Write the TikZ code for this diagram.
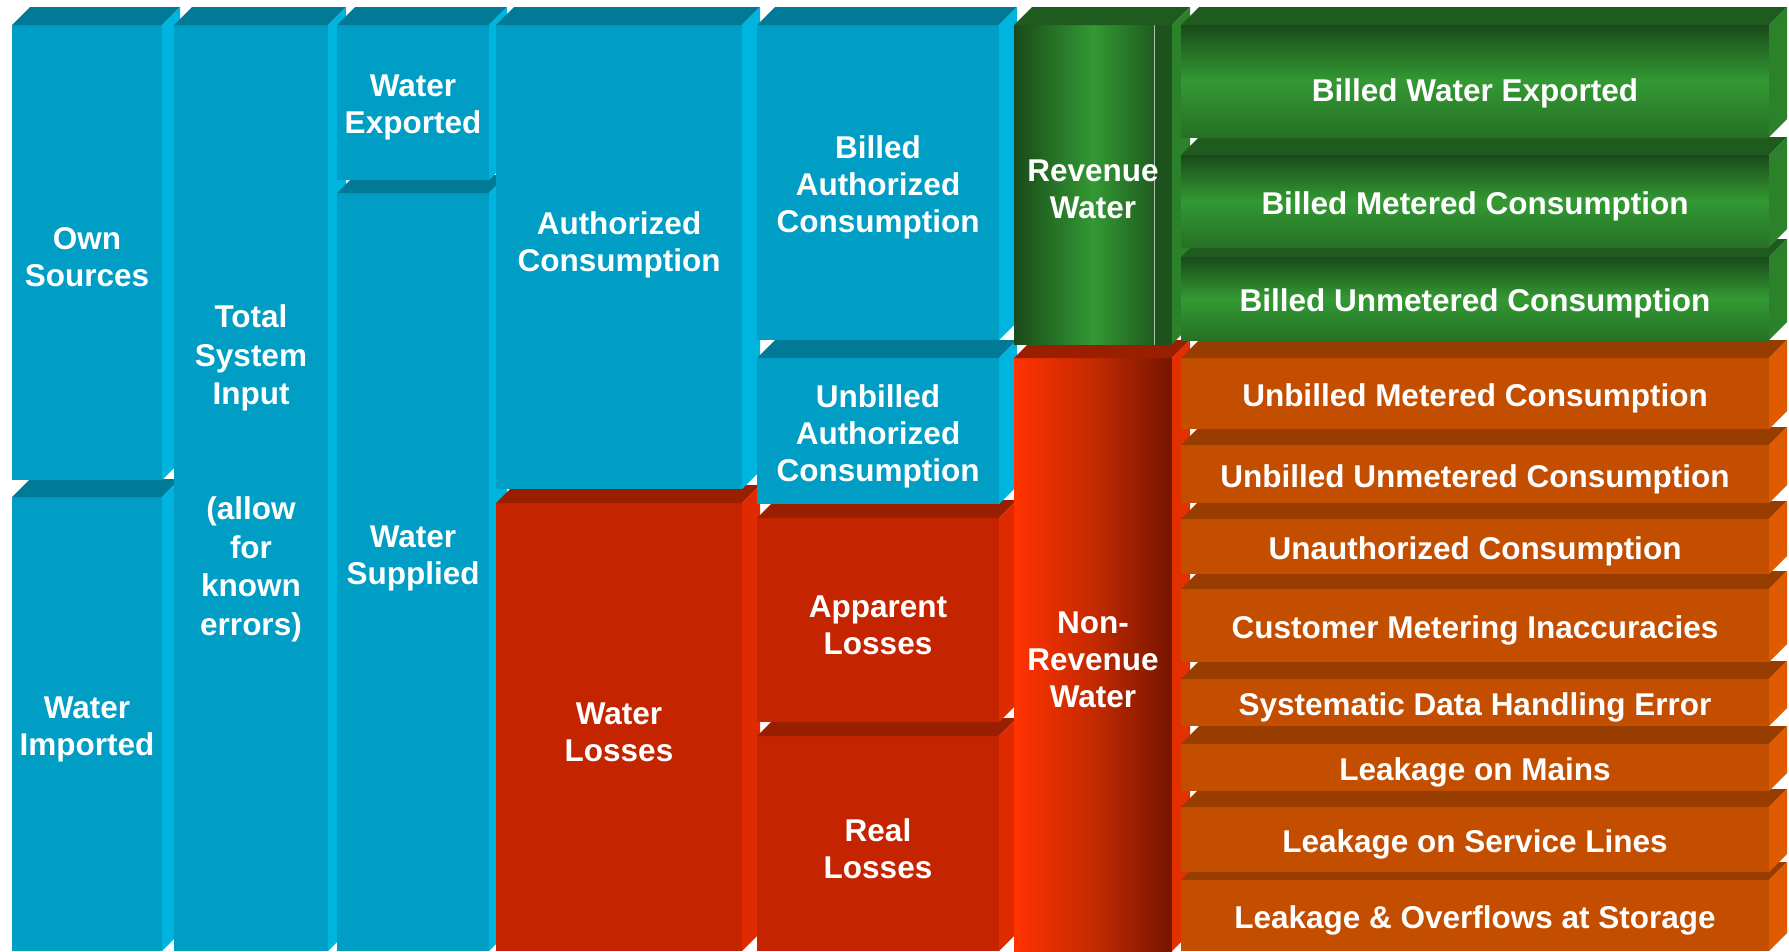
\documentclass[tikz,border=0pt]{standalone}
\usepackage{fontspec}
\setmainfont{Liberation Sans}
\usepackage{xcolor}
\definecolor{bluefront}{HTML}{009EC5}
\definecolor{bluetop}{HTML}{007A96}
\definecolor{blueside}{HTML}{00B4E0}
\definecolor{redfront}{HTML}{C42500}
\definecolor{redtop}{HTML}{9A1E00}
\definecolor{redside}{HTML}{E02A00}
\definecolor{orangefront}{HTML}{C44E00}
\definecolor{orangetop}{HTML}{983D00}
\definecolor{orangeside}{HTML}{E05A00}
\definecolor{greendark}{HTML}{1A4A1A}
\definecolor{greenlight}{HTML}{339933}
\definecolor{greenmid}{HTML}{267026}
\definecolor{greentop}{HTML}{1F5A1F}
\definecolor{greenside}{HTML}{2B822B}
\definecolor{revstrip}{HTML}{1D521D}
\definecolor{revline}{HTML}{B0C0B0}
\definecolor{nrwleft}{HTML}{FF3300}
\definecolor{nrwmid}{HTML}{C42A00}
\definecolor{nrwright}{HTML}{761500}
\definecolor{nrwside}{HTML}{E33000}
\tikzset{
    front blue/.style={fill=bluefront},
    top blue/.style={fill=bluetop},
    side blue/.style={fill=blueside},
    front red/.style={fill=redfront},
    top red/.style={fill=redtop},
    side red/.style={fill=redside},
    front orange/.style={fill=orangefront},
    top orange/.style={fill=orangetop},
    side orange/.style={fill=orangeside},
    front green/.style={top color=greendark, bottom color=greenmid, middle color=greenlight},
    top green/.style={fill=greentop},
    side green/.style={fill=greenside},
    front rev/.style={left color=greendark, right color=greendark, middle color=greenlight,
        path picture={
            \fill[revstrip] (1155,0) rectangle (1172,951);
            \draw[revline, line width=1pt] (1154.5,0) -- (1154.5,951);
        }},
    top rev/.style={fill=greentop},
    side rev/.style={fill=greenside},
    front nrw/.style={left color=nrwleft, right color=nrwright, middle color=nrwmid},
    top nrw/.style={fill=redtop},
    side nrw/.style={fill=nrwside},
    box label/.style={text=white, font=\fontsize{31.5}{37}\selectfont\bfseries,
        align=center, inner sep=0pt, yshift=-5pt},
}
% [node options]{name}{x1}{y1}{x2}{y2}{colour}{text}
\newcommand{\waterbox}[8][]{%
    \path[front #7] (#3,#4) rectangle (#5,#6);
    \path[top #7] (#3,#4) -- ++(\dep,-\dep) -- ({#5+\dep},{#4-\dep}) -- (#5,#4) -- cycle;
    \path[side #7] (#5,#4) -- ++(\dep,-\dep) -- ({#5+\dep},{#6-\dep}) -- (#5,#6) -- cycle;
    \node[box label,#1] (#2) at ({(#3+#5)/2},{(#4+#6)/2}) {#8};
}

\begin{document}
\begin{tikzpicture}[x=1pt,y=-1pt]
    \pgfmathsetmacro{\dep}{18}
    \useasboundingbox (0,0) rectangle (1789,951);
    \waterbox{imported}{12}{497}{162}{951}{blue}{Water\\Imported}
    \waterbox{own}{12}{25}{162}{480}{blue}{Own\\Sources}
    \waterbox[yshift=19.5pt, font=\fontsize{31.5}{38.5}\selectfont\bfseries]{system}{174}{25}{328}{951}{blue}{Total\\System\\Input\\[76.5pt](allow\\for\\known\\errors)}
    \waterbox[yshift=19pt]{supplied}{337}{193}{489}{951}{blue}{Water\\Supplied}
    \waterbox{exported}{337}{25}{489}{180}{blue}{Water\\Exported}
    \waterbox{losses}{496}{503}{742}{951}{red}{Water\\Losses}
    \waterbox[yshift=17pt]{authorized}{496}{25}{742}{489}{blue}{Authorized\\Consumption}
    \waterbox{real}{757}{736}{999}{951}{red}{Real\\Losses}
    \waterbox{apparent}{757}{518}{999}{722}{red}{Apparent\\Losses}
    \waterbox{unbilledauth}{757}{358}{999}{504}{blue}{Unbilled\\Authorized\\Consumption}
    \waterbox{billedauth}{757}{25}{999}{340}{blue}{Billed\\Authorized\\Consumption}
    \waterbox{nonrevenue}{1014}{358}{1172}{951}{nrw}{Non-\\Revenue\\Water}
    \waterbox{revenue}{1014}{25}{1172}{344}{rev}{Revenue\\Water}
    \waterbox{storage}{1181}{880}{1769}{951}{orange}{Leakage \& Overflows at Storage}
    \waterbox{servicelines}{1181}{807}{1769}{872}{orange}{Leakage on Service Lines}
    \waterbox{mains}{1181}{744}{1769}{791}{orange}{Leakage on Mains}
    \waterbox{datahandling}{1181}{679}{1769}{726}{orange}{Systematic Data Handling Error}
    \waterbox{metering}{1181}{589}{1769}{662}{orange}{Customer Metering Inaccuracies}
    \waterbox{unauthorized}{1181}{519}{1769}{574}{orange}{Unauthorized Consumption}
    \waterbox{unbilledunmetered}{1181}{445}{1769}{503}{orange}{Unbilled Unmetered Consumption}
    \waterbox{unbilledmetered}{1181}{358}{1769}{429}{orange}{Unbilled Metered Consumption}
    \waterbox{billedunmetered}{1181}{257}{1769}{340}{green}{Billed Unmetered Consumption}
    \waterbox{billedmetered}{1181}{155}{1769}{247}{green}{Billed Metered Consumption}
    \waterbox[yshift=-7pt]{billedexported}{1181}{25}{1769}{137}{green}{Billed Water Exported}
\end{tikzpicture}
\end{document}
